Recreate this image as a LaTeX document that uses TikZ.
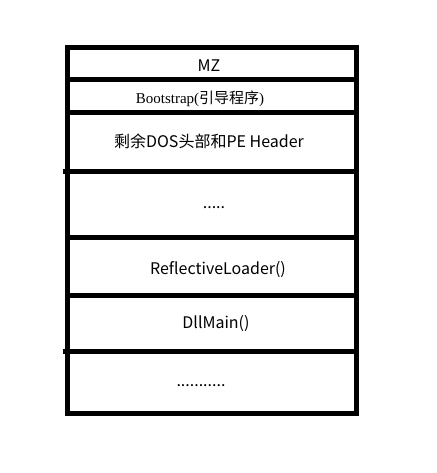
\documentclass[tikz,border=0pt]{standalone}
\usepackage{fontspec}
\setmainfont{Noto Sans CJK SC}
\newfontfamily\bsfont{Liberation Serif}
\newfontfamily\cjkfont{Noto Sans CJK SC}
\begin{document}
\begin{tikzpicture}[x=1pt,y=-1pt,
  rowline/.style={line width=5pt},
  lbl/.style={inner sep=0pt, font=\fontsize{16}{18}\selectfont}]
\useasboundingbox (0,0) rectangle (436,473);
\coordinate (tl) at (67,48);
\coordinate (br) at (356,413);
\draw[rowline] (tl) rectangle (br);
\foreach \y/\x in {80/67,113/67,171/63,237/67,295/67,351/63}{
  \draw[rowline] (\x,\y) -- (356,\y);
}
\node[lbl] (mz) at (209,66) {MZ};
\node[lbl, font=\fontsize{15}{17}\selectfont] (bs) at (200,99) {\bsfont Bootstrap(\cjkfont 引导程序\bsfont )};
\node[lbl] (hdr) at (209,141) {剩余DOS头部和PE Header};
\node[lbl] (d1) at (214,208) {.....};
\node[lbl] (rl) at (218,270) {ReflectiveLoader()};
\node[lbl] (dm) at (216,324) {DllMain()};
\node[lbl] (d2) at (201,386) {...........};
\end{tikzpicture}
\end{document}
